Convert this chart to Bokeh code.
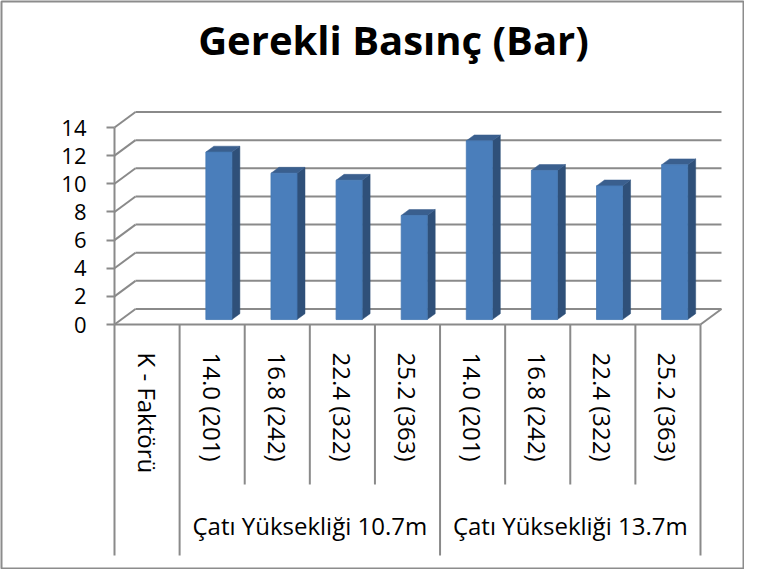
from bokeh.plotting import figure
from bokeh.models import LinearAxis, FixedTicker, Range1d, ColumnDataSource, Grid
from bokeh.core.properties import value
from bokeh.embed import file_html
from bokeh.resources import INLINE

# ---------------- data ----------------
title_text = "Gerekli Basınç (Bar)"
categories = ["K - Faktörü",
              "14.0 (201)", "16.8 (242)", "22.4 (322)", "25.2 (363)",
              "14.0 (201)", "16.8 (242)", "22.4 (322)", "25.2 (363)"]
groups = ["Çatı Yüksekliği 10.7m", "Çatı Yüksekliği 13.7m"]
group_start = [1, 5]
group_end = [5, 9]
bar_category = [1, 2, 3, 4, 5, 6, 7, 8]
pressure = [11.9, 10.4, 9.9, 7.4, 12.7, 10.6, 9.5, 11.0]
y_ticks = [0, 2, 4, 6, 8, 10, 12, 14]

# ---------------- layout ----------------
W, H = 744, 569
PAGE_X0, PAGE_Y0 = 8, 8
MB = 1
AXIS_X_PX, AXIS_Y_PX = 122.0, 332.0
CAT_PX, UNIT_PX = 65.11, 14.07
DEPTH_X_PX, DEPTH_Y_PX = 21.0, 15.5
LABEL_BAND_PX = 160.0
GROUP_BAND_PX = 231.0
GROUP_LABEL_PX = 201.0
TITLE_X_PX, TITLE_Y_PX = 401.0, 47.0

x_start = (PAGE_X0 + MB - AXIS_X_PX) / CAT_PX
x_end = (PAGE_X0 + W - MB - AXIS_X_PX) / CAT_PX
y_end = (AXIS_Y_PX - (PAGE_Y0 + MB)) / UNIT_PX
y_start = (AXIS_Y_PX - (PAGE_Y0 + H - MB)) / UNIT_PX
dx = DEPTH_X_PX / CAT_PX
dy = DEPTH_Y_PX / UNIT_PX
n_cat = len(categories)

GRID = "#8a8a8a"
FONT = "Open Sans"

p = figure(width=W, height=H, x_range=Range1d(x_start, x_end),
           y_range=Range1d(y_start, y_end), output_backend="svg",
           toolbar_location=None, x_axis_location=None, y_axis_location=None,
           min_border=MB, title=None)
for g in p.select(type=Grid):
    g.visible = False
p.outline_line_color = "#8c8c8c"
p.outline_line_width = 2
p.background_fill_color = "white"
p.border_fill_color = "white"

# side wall diagonals and back-wall gridlines
p.segment(x0=[0] * len(y_ticks), y0=y_ticks,
          x1=[dx] * len(y_ticks), y1=[t + dy for t in y_ticks],
          line_color=GRID, line_width=2)
p.segment(x0=[dx] * len(y_ticks), y0=[t + dy for t in y_ticks],
          x1=[n_cat + dx] * len(y_ticks), y1=[t + dy for t in y_ticks],
          line_color=GRID, line_width=2)
# floor right edge
p.segment(x0=[n_cat], y0=[0], x1=[n_cat + dx], y1=[dy],
          line_color=GRID, line_width=2)

# bars (3-D look)
F0, F1 = 0.32, 0.70
HALF = 0.2
L, R, B, T, side_xs, side_ys, top_xs, top_ys = [], [], [], [], [], [], [], []
ddx, ddy = dx * (F1 - F0), dy * (F1 - F0)
for c, v in zip(bar_category, pressure):
    cx = c + 0.5
    l = cx - HALF + dx * F0
    r = cx + HALF + dx * F0
    b = dy * F0
    t = v + dy * F0
    L.append(l); R.append(r); B.append(b); T.append(t)
    side_xs.append([r, r + ddx, r + ddx, r])
    side_ys.append([b, b + ddy, t + ddy, t])
    top_xs.append([l, r, r + ddx, l + ddx])
    top_ys.append([t, t, t + ddy, t + ddy])

p.patches(xs=side_xs, ys=side_ys, fill_color="#2f5079", line_color="#2f5079", line_width=0.5)
p.patches(xs=top_xs, ys=top_ys, fill_color="#3a5f8e", line_color="#3a5f8e", line_width=0.5)
p.quad(left=L, right=R, bottom=B, top=T, fill_color="#4a7ebb", line_color="#4578b4", line_width=0.8)

# y axis (front-left edge)
yaxis = LinearAxis(fixed_location=0, ticker=FixedTicker(ticks=y_ticks), bounds=(0, 14))
yaxis.axis_line_color = GRID
yaxis.axis_line_width = 2
yaxis.major_tick_line_color = GRID
yaxis.major_tick_line_width = 2
yaxis.major_tick_out = 8
yaxis.major_tick_in = 0
yaxis.minor_tick_line_color = None
yaxis.major_label_standoff = 20
yaxis.major_label_text_font = FONT
yaxis.major_label_text_font_size = "22px"
yaxis.major_label_text_color = "#000000"
p.add_layout(yaxis, "left")

# x axis (front floor edge) with vertical category labels
xticks = [i + 0.5 for i in range(n_cat)]
xaxis = LinearAxis(fixed_location=0, ticker=FixedTicker(ticks=xticks), bounds=(0, n_cat))
xaxis.major_label_overrides = {xt: lab for xt, lab in zip(xticks, categories)}
xaxis.major_label_orientation = "vertical"
xaxis.axis_line_color = GRID
xaxis.axis_line_width = 2
xaxis.major_tick_line_color = None
xaxis.minor_tick_line_color = None
xaxis.major_label_standoff = 22
xaxis.major_label_text_font = FONT
xaxis.major_label_text_font_size = "24px"
xaxis.major_label_text_color = "#000000"
p.add_layout(xaxis, "below")

# category separators
short_sep = [i for i in range(n_cat + 1) if i not in ([0] + group_start + group_end)]
long_sep = sorted(set([0] + group_start + group_end))
p.segment(x0=short_sep, y0=[0] * len(short_sep), x1=short_sep,
          y1=[-LABEL_BAND_PX / UNIT_PX] * len(short_sep), line_color=GRID, line_width=2)
p.segment(x0=long_sep, y0=[0] * len(long_sep), x1=long_sep,
          y1=[-GROUP_BAND_PX / UNIT_PX] * len(long_sep), line_color=GRID, line_width=2)

# group labels
gsrc = ColumnDataSource(dict(x=[(a + b) / 2 for a, b in zip(group_start, group_end)],
                             y=[-GROUP_LABEL_PX / UNIT_PX] * len(groups), text=groups))
p.text(x="x", y="y", text="text", source=gsrc, text_align="center", text_baseline="middle",
       text_font=value(FONT), text_font_size="24px", text_color="#000000")

# title
p.text(x=[(TITLE_X_PX - AXIS_X_PX) / CAT_PX], y=[(AXIS_Y_PX - TITLE_Y_PX) / UNIT_PX],
       text=[title_text], text_align="center", text_baseline="middle",
       text_font=value(FONT), text_font_size="40px", text_font_style="bold",
       text_color="#000000")

open("out.html", "w").write(file_html(p, INLINE))
